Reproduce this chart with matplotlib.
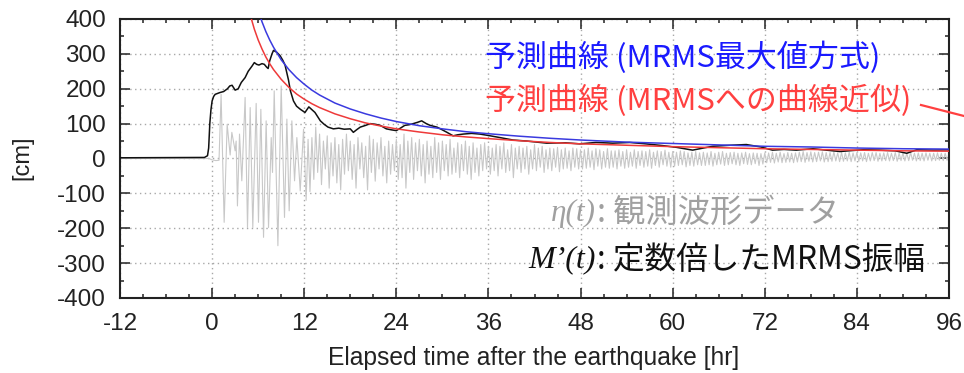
import numpy as np
import matplotlib
matplotlib.use("Agg")
import matplotlib.pyplot as plt
from matplotlib.ticker import MultipleLocator
from matplotlib.lines import Line2D

plt.rcParams["axes.unicode_minus"] = False

# ---------------- data ----------------
# observed waveform eta(t): explicit early part
gray_early_t = [-12, -0.4, 0.0, 0.5, 0.9, 1.17, 1.57, 1.96, 2.35, 2.57, 3.0, 3.13, 3.30, 3.57, 3.87,
                4.30, 4.61, 4.96, 5.30, 5.74, 6.04, 6.35, 6.70, 7.04, 7.35, 7.70, 7.87, 8.09,
                8.57, 9.00, 9.43, 9.74, 10.04, 10.39, 10.74, 11.04, 11.48, 11.91]
gray_early_v = [0, 0, -4, -6, -5, 184, -183, 98, 10, 75, 22, 50, -136, 70, -64,
                175, -198, 146, -198, 158, -183, 141, -226, 108, -198, 60, -40, 194,
                -250, 208, -169, 113, -150, 108, -64, 60, -93, 84]
# later part: one extremum every 0.25 hr starting at 12.25 hr
gray_late_start = 12.25
gray_late_step = 0.25
gray_late_v = [
    -120, 55, -95, 60, -60, 90, -40, 70, -75, 50, -30, 65, -85, 45, -50, 60,
    -70, 40, -90, 55, -45, 70, -35, 50, -60, 40, -85, 60, -30, 45, -55, 35,
    -90, 65, -40, 55, -65, 45, -30, 60, -50, 35, -70, 50, -45, 40, -35, 55,
    -60, 40, -55, 70, -85, 50, -40, 60, -60, 45, -35, 55, -50, 40, -70, 50,
    -45, 35, -55, 60, -40, 45, -60, 50, -35, 40, -50, 55, -45, 30, -40, 45,
    -55, 40, -35, 50, -45, 35, -60, 45, -40, 30, -50, 40, -35, 45, -30, 35,
    -45, 30, -35, 40, -50, 35, -30, 45, -40, 25, -35, 40, -55, 30, -30, 35,
    -40, 30, -30, 35, -45, 25, -30, 40, -35, 30, -25, 35, -40, 25, -30, 30,
    -35, 28, -25, 32, -38, 25, -30, 30, -28, 22, -35, 30, -25, 28, -30, 25,
    -30, 25, -28, 30, -25, 22, -32, 28, -22, 25, -30, 20, -25, 28, -28, 22,
    -25, 22, -30, 25, -22, 20, -28, 25, -25, 18, -22, 25, -28, 20, -20, 22,
    -25, 20, -22, 25, -28, 18, -20, 22, -25, 20, -18, 24, -22, 18, -25, 20,
    -22, 18, -20, 22, -18, 20, -24, 16, -20, 18, -22, 20, -18, 16, -20, 18,
    -20, 16, -18, 20, -22, 15, -18, 18, -16, 20, -20, 15, -18, 17, -15, 18,
    -18, 15, -20, 16, -15, 18, -17, 14, -18, 16, -15, 15, -20, 14, -16, 16,
    -12, 16, -11, 18, -13, 15, -10, 18, -12, 14, -11, 17, -10, 15, -12, 16,
    -10, 18, -9, 20, -11, 17, -8, 19, -10, 17, -9, 18, -7, 19, -10, 17,
    -9, 17, -8, 19, -7, 16, -9, 17, -8, 16, -7, 18, -9, 16, -7, 17,
    -8, 16, -7, 17, -9, 15, -7, 17, -6, 17, -8, 15, -7, 16, -6, 17,
    -7, 15, -6, 17, -8, 15, -6, 16, -7, 15, -6, 17, -5, 15, -7, 16,
    -6, 15, -7, 16, -5, 15, -7, 15, -6, 16, -5, 15, -6, 15, -5, 15,
]

# scaled MRMS amplitude M'(t)
mrms_t = [-12, -1, -0.6, -0.45, -0.3, -0.15, 0.0, 0.2, 0.4, 1.0, 1.5, 2.0, 2.3, 2.6, 3.0, 3.4,
          3.8, 4.3, 4.7, 5.2, 5.5, 5.8, 6.1, 6.5, 6.8, 7.1, 7.3, 7.5, 7.8, 8.0, 8.4, 8.85, 9.2,
          9.5, 9.95, 10.2, 10.6, 11.0, 11.5, 12.1, 12.6, 13.0, 13.4, 14.1, 14.6, 15.1, 15.8,
          16.5, 17.2, 18.0, 18.4, 18.8, 19.3, 20.0, 20.6, 21.3, 21.9, 22.7, 23.4, 24.0, 24.6,
          25.1, 25.7, 26.2, 26.8, 27.3, 27.9, 28.4, 29.3, 30.0, 30.6, 31.4, 32.0, 32.7, 33.8,
          34.9, 36, 37.5, 39.2, 41, 43.6, 46, 47.9, 50, 52.2, 54.4, 56.5, 58.7, 60.5, 62.6,
          64, 65.2, 67.5, 69.6, 71.5, 73, 74.5, 76.1, 78.3, 80, 81.8, 83.5, 84.8, 87, 89,
          90.5, 91.8, 94, 96]
mrms_v = [2, 3, 8, 30, 100, 140, 165, 178, 184, 189, 192, 200, 208, 210, 196, 200,
          218, 232, 250, 265, 275, 270, 268, 272, 270, 262, 258, 280, 300, 310, 305, 295, 282,
          268, 225, 194, 165, 150, 141, 132, 148, 140, 132, 108, 98, 90, 85,
          87, 84, 85, 75, 82, 90, 95, 100, 98, 95, 85, 82, 80, 88,
          95, 97, 100, 104, 108, 100, 95, 90, 82, 75, 65, 68, 70, 72,
          70, 66, 60, 53, 50, 44, 45, 42, 46, 44, 46, 42, 37, 32, 24,
          30, 35, 38, 40, 33, 24, 26, 24, 28, 24, 20, 23, 25, 24, 22,
          15, 25, 24, 25]

# prediction curve (MRMS maximum method) - blue
blue_t = [6.3, 6.5, 7, 7.5, 8, 9, 10, 11, 12, 13, 14, 16, 18, 20, 22, 24, 27, 30, 33, 36,
          40, 44, 48, 54, 60, 66, 72, 78, 84, 90, 96]
blue_v = [405, 392, 364, 340, 319, 283, 255, 232, 213, 196, 182, 159, 142, 128, 116, 106,
          94, 85, 77, 71, 64, 58, 53, 47, 43, 39, 35, 33, 30, 28, 27]

# prediction curve (curve fit to MRMS) - red
red_t = [5.05, 5.5, 6, 6.5, 7, 7.5, 8, 9, 10, 11, 12, 13, 14, 16, 18, 20, 22, 24, 27, 30, 33,
         36, 40, 44, 48, 54, 60, 66, 72, 78, 84, 90, 96]
red_v = [405, 371, 340, 314, 291, 272, 255, 227, 204, 185, 170, 157, 146, 128, 114, 102, 93,
         85, 76, 68, 62, 57, 51, 46, 42, 38, 34, 31, 28, 26, 24, 22, 21]

x_ticks = [-12, 0, 12, 24, 36, 48, 60, 72, 84, 96]
y_ticks = [-400, -300, -200, -100, 0, 100, 200, 300, 400]

# ---------------- figure ----------------
W, H = 964, 373
fig = plt.figure(figsize=(W / 100, H / 100), dpi=100)
ax = fig.add_axes([120 / W, 1 - 298 / H, (949 - 120) / W, (298 - 19) / H])

late_t = gray_late_start + gray_late_step * np.arange(len(gray_late_v))
gray_t = np.concatenate([gray_early_t, late_t])
gray_v = np.concatenate([gray_early_v, gray_late_v])

ax.plot(gray_t, gray_v, color="#c8c8c8", lw=0.8, zorder=2)
ax.plot(mrms_t, mrms_v, color="#111111", lw=1.1, zorder=3)
ax.plot(blue_t, blue_v, color="#3a3adf", lw=1.1, zorder=4)
ax.plot(red_t, red_v, color="#ee3a3a", lw=1.1, zorder=4)

ax.set_xlim(-12, 96)
ax.set_ylim(-400, 400)
ax.set_xticks(x_ticks)
ax.set_yticks(y_ticks)
ax.xaxis.set_minor_locator(MultipleLocator(3))
ax.yaxis.set_minor_locator(MultipleLocator(50))
ax.grid(True, which="major", color="#a8a8a8", linestyle=(0, (1, 2.5)), lw=1.0, zorder=1)
ax.tick_params(which="both", direction="in", top=True, right=True, width=1.1, color="#222222")
ax.tick_params(which="major", length=7)
ax.tick_params(which="minor", length=3)
ax.tick_params(axis="y", which="major", pad=10)
ax.tick_params(axis="x", which="major", pad=11)
for lab in ax.get_xticklabels() + ax.get_yticklabels():
    lab.set_fontfamily("Liberation Sans")
    lab.set_fontsize(17.5)
    lab.set_color("#222222")
for s in ax.spines.values():
    s.set_linewidth(1.5)
    s.set_color("#222222")

fig.text(22 / W, 1 - 158 / H, "[cm]", rotation=90, ha="center", va="center",
         fontsize=17, family="Liberation Sans", color="#222222")
fig.text(534 / W, 1 - 358 / H, "Elapsed time after the earthquake [hr]", ha="center",
         va="center", fontsize=17.7, family="Liberation Sans", color="#222222")

jp = ["Noto Sans CJK JP", "DejaVu Sans"]
fig.text(485 / W, 1 - 58 / H, "予測曲線 (MRMS最大値方式)", ha="left", va="center",
         fontsize=22.3, family=jp, color="#1a1aff")
fig.text(485 / W, 1 - 101 / H, "予測曲線 (MRMSへの曲線近似)", ha="left", va="center",
         fontsize=22.3, family=jp, color="#ff4040")
fig.add_artist(Line2D([921 / W, 964 / W], [1 - 105 / H, 1 - 116 / H],
                      transform=fig.transFigure, color="#ff4040", lw=1.6))

fig.text(596 / W, 1 - 213 / H, "η(t)", ha="right", va="center", fontsize=22.5,
         family="Liberation Serif", style="italic", color="#a0a0a0")
fig.text(597 / W, 1 - 213 / H, ": 観測波形データ", ha="left", va="center",
         fontsize=23.2, family=jp, color="#a0a0a0")
fig.text(596 / W, 1 - 260 / H, "M’(t)", ha="right", va="center", fontsize=23,
         family="Liberation Serif", style="italic", color="#111111")
fig.text(597 / W, 1 - 260 / H, ": 定数倍したMRMS振幅", ha="left", va="center",
         fontsize=22.8, family=jp, color="#111111")

fig.savefig("out.png", dpi=100)
